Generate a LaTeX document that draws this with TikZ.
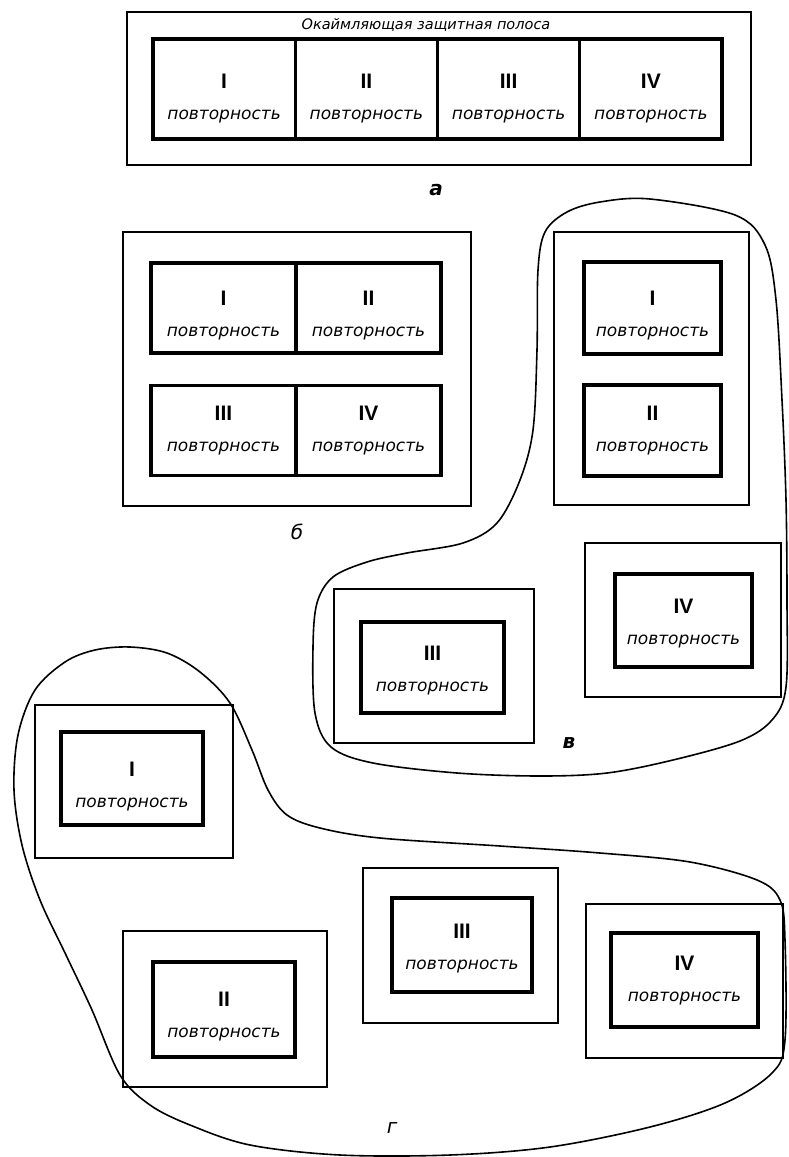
\documentclass[tikz,border=0pt]{standalone}
\usepackage{fontspec}
\usetikzlibrary{positioning}

\newfontfamily\plotfont{DejaVu Sans}
\newfontfamily\numfont{Liberation Sans}
\newcommand{\povt}[1]{{\numfont\bfseries\fontsize{21}{31}\selectfont #1}\\{\itshape повторность}}

\begin{document}
\begin{tikzpicture}[x=1pt, y=-1pt]

  \tikzstyle{guard} = [draw, line width=2.4pt, rectangle, outer sep=0pt, inner sep=0pt]
  \tikzstyle{plotcell} = [draw, line width=3.3pt, rectangle, outer sep=0pt, inner sep=0pt]
  \tikzstyle{celltext} = [align=center, inner sep=0pt, yshift=-3pt, font={\plotfont\fontsize{17}{31}\selectfont}]
  \tikzstyle{caption} = [font={\plotfont\itshape\fontsize{20}{22}\selectfont}]
  \tikzstyle{blob} = [line width=1.6pt, line join=round]
  \tikzstyle{cellA} = [minimum width=142.25pt, minimum height=100pt]
  \tikzstyle{cellB} = [minimum width=145pt, minimum height=90pt]

  \useasboundingbox (0,0) rectangle (788,1157);

  % a: four replications in one row inside a border strip
  \node[guard, name=aField, minimum width=624pt, minimum height=153pt] at (439,88.5) {};
  \node[caption, name=aTitle, font={\plotfont\itshape\fontsize{14.5}{18}\selectfont}] at (426,25) {Окаймляющая защитная полоса};
  \node[plotcell, cellA, name=a1, label={[celltext, yshift=-7pt]center:{\povt{I}}}] at (224.1,89) {};
  \node[plotcell, cellA, name=a2, right=0pt of a1, label={[celltext, yshift=-7pt]center:{\povt{II}}}] {};
  \node[plotcell, cellA, name=a3, right=0pt of a2, label={[celltext, yshift=-7pt]center:{\povt{III}}}] {};
  \node[plotcell, cellA, name=a4, right=0pt of a3, label={[celltext, yshift=-7pt]center:{\povt{IV}}}] {};
  \node[caption, name=aCap, font={\plotfont\bfseries\itshape\fontsize{20}{22}\selectfont}] at (436,190) {а};

  % b: two rows of two
  \node[guard, name=bField, minimum width=348pt, minimum height=274pt] at (297,369) {};
  \node[plotcell, cellB, name=b1, label={[celltext, yshift=-5pt]center:{\povt{I}}}] at (223.5,308) {};
  \node[plotcell, cellB, name=b2, right=0pt of b1, label={[celltext, yshift=-5pt]center:{\povt{II}}}] {};
  \node[plotcell, cellB, name=b3, label={[celltext, yshift=3pt]center:{\povt{III}}}] at (223.5,430.5) {};
  \node[plotcell, cellB, name=b4, right=0pt of b3, label={[celltext, yshift=3pt]center:{\povt{IV}}}] {};
  \node[caption, name=bCap] at (297,532) {б};

  % v: I and II together, III and IV apart
  \draw[blob] plot[smooth cycle, tension=0.55] coordinates {
    (650,199) (735,215) (765,245) (776,300) (782,400) (786,500) (787,600)
    (786,687) (772,720) (740,741) (673,760) (607,773) (540,776) (457,773)
    (373,763) (331,747) (315,713) (313,647) (317,603) (333,577) (367,562)
    (407,553) (463,543) (497,523) (520,480) (533,430) (537,350) (538,270)
    (545,232) (567,212) (600,202)};
  \node[guard, name=vField12, minimum width=195pt, minimum height=273pt] at (651.5,368.5) {};
  \node[plotcell, name=v1, minimum width=137pt, minimum height=92pt, label={[celltext, yshift=-5pt]center:{\povt{I}}}] at (652.5,308) {};
  \node[plotcell, name=v2, minimum width=137pt, minimum height=91pt, label={[celltext, yshift=3pt]center:{\povt{II}}}] at (652.5,430.5) {};
  \node[guard, name=vField3, minimum width=200pt, minimum height=154pt] at (434,666) {};
  \node[plotcell, name=v3, minimum width=143pt, minimum height=91pt, label={[celltext, yshift=0pt]center:{\povt{III}}}] at (432.5,667.5) {};
  \node[guard, name=vField4, minimum width=196pt, minimum height=154pt] at (683,620) {};
  \node[plotcell, name=v4, minimum width=137pt, minimum height=93pt, label={[celltext]center:{\povt{IV}}}] at (683.5,620.5) {};
  \node[caption, name=vCap, font={\plotfont\bfseries\itshape\fontsize{20}{22}\selectfont}] at (569,743) {в};

  % g: every replication on its own
  \draw[blob] plot[smooth cycle, tension=0.55] coordinates {
    (130,647) (167,653) (200,672) (230,703) (252,750) (268,790) (287,815)
    (320,828) (380,838) (500,846) (600,853) (690,862) (757,880) (780,900)
    (785,940) (785,1040) (772,1073) (725,1103) (650,1127) (550,1147)
    (450,1155) (340,1155) (250,1145) (190,1125) (150,1105) (120,1075)
    (92,1010) (66,955) (40,900) (22,845) (14,790) (18,735) (35,690)
    (65,662) (95,650)};
  \node[guard, name=gField1, minimum width=198pt, minimum height=153pt] at (134,781.5) {};
  \node[plotcell, name=g1, minimum width=142pt, minimum height=93pt, label={[celltext, yshift=-5pt]center:{\povt{I}}}] at (132,778.5) {};
  \node[guard, name=gField2, minimum width=204pt, minimum height=156pt] at (225,1009) {};
  \node[plotcell, name=g2, minimum width=142pt, minimum height=95pt, label={[celltext, yshift=-4pt]center:{\povt{II}}}] at (224,1009.5) {};
  \node[guard, name=gField3, minimum width=195pt, minimum height=155pt] at (460.5,945.5) {};
  \node[plotcell, name=g3, minimum width=140pt, minimum height=94pt, label={[celltext, yshift=-1pt]center:{\povt{III}}}] at (462,945) {};
  \node[guard, name=gField4, minimum width=197pt, minimum height=154pt] at (684.5,981) {};
  \node[plotcell, name=g4, minimum width=147pt, minimum height=94pt, label={[celltext, yshift=2pt]center:{\povt{IV}}}] at (684.5,980) {};
  \node[caption, name=gCap] at (392,1128) {г};

\end{tikzpicture}
\end{document}
